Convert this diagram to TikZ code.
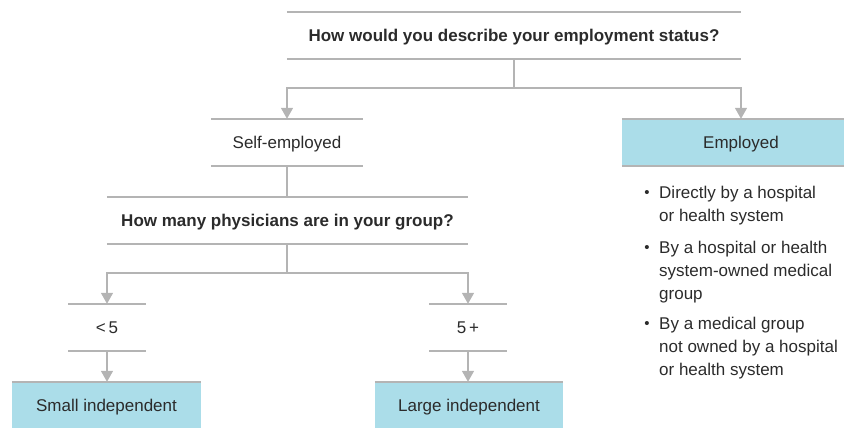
\documentclass[tikz,border=0pt]{standalone}
\usepackage{fontspec}
\setmainfont{Liberation Sans}
\usetikzlibrary{arrows.meta}
\definecolor{lgray}{HTML}{B4B4B4}
\definecolor{lblue}{HTML}{ABDDE9}
\definecolor{ink}{HTML}{2B2B2B}
\begin{document}
\begin{tikzpicture}[x=1pt,y=-1pt,
  txt/.style={font=\fontsize{17}{23}\selectfont, text=ink},
  opt/.style={txt, inner sep=0pt, minimum height=47pt, text height=12pt, text depth=0pt},
  blueb/.style={opt, fill=lblue},
  rule/.style={draw=lgray, line width=1.5pt},
  conn/.style={draw=lgray, line width=1.5pt},
  arr/.style={conn, -{Triangle[width=12pt,length=11pt,fill=lgray]}},
  dot/.style={font=\fontsize{15}{15}\selectfont, text=ink, inner sep=0pt, anchor=base},
  item/.style={txt, inner sep=0pt, anchor=base west}
  ]
\useasboundingbox (0,0) rectangle (844,428);

% nodes
\node[opt, minimum width=454pt, font=\fontsize{17}{23}\selectfont\bfseries] (q1) at (514,35.5) {How would you describe your employment status?};
\node[opt, minimum width=152pt] (self) at (287,142.5) {Self-employed};
\node[blueb, minimum width=222pt, minimum height=47pt] (emp) at (733,142.5) {\hspace*{16pt}Employed};
\node[opt, minimum width=361pt, font=\fontsize{17}{23}\selectfont\bfseries] (q2) at (287.5,220.5) {How many physicians are in your group?};
\node[opt, minimum width=77pt] (lt) at (107,327.5) {<\,5};
\node[opt, minimum width=77pt] (ge) at (468,327.5) {5\,+};
\node[blueb, minimum width=189pt, minimum height=46pt] (small) at (106.5,405) {Small independent};
\node[blueb, minimum width=188pt, minimum height=46pt] (large) at (469,405) {Large independent};

% rules
\foreach \n in {q1,self,q2,lt,ge}{
  \draw[rule] (\n.north west) -- (\n.north east);
  \draw[rule] (\n.south west) -- (\n.south east);
}
\draw[rule] (emp.north west) -- (emp.north east);
\draw[rule] (emp.south west) -- (emp.south east);
\draw[rule] (small.north west) -- (small.north east);
\draw[rule] (large.north west) -- (large.north east);

% connectors
\coordinate (j1) at (514,88);
\coordinate (j2) at (287,273);
\draw[conn] (q1.south) -- (j1);
\draw[arr] (j1) -| (self.north);
\draw[arr] (j1) -| ([xshift=8pt]emp.north);
\draw[conn] (self.south) -- (q2.north -| self.south);
\draw[conn] (q2.south -| j2) -- (j2);
\draw[arr] (j2) -| (lt.north);
\draw[arr] (j2) -| (ge.north);
\draw[arr] (lt.south) -- (lt.south |- small.north);
\draw[arr] (ge.south) -- (ge.south |- large.north);

% bullet list
\node[dot] (d1) at (647,197.5) {•};
\node[item] (b1) at (659,198) {\begin{tabular}[t]{@{}l@{}}Directly by a hospital\\or health system\end{tabular}};
\node[dot] (d2) at (647,252.5) {•};
\node[item] (b2) at (659,253) {\begin{tabular}[t]{@{}l@{}}By a hospital or health\\system-owned medical\\group\end{tabular}};
\node[dot] (d3) at (647,328.5) {•};
\node[item] (b3) at (659,329) {\begin{tabular}[t]{@{}l@{}}By a medical group\\not owned by a hospital\\or health system\end{tabular}};
\end{tikzpicture}
\end{document}
